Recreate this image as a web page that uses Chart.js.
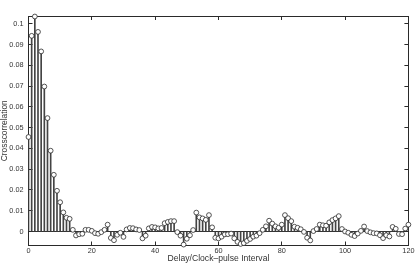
<!DOCTYPE html>
<html>
<head>
<meta charset="utf-8">
<script src="https://cdn.jsdelivr.net/npm/chart.js@4/dist/chart.umd.min.js"></script>
<style>
html, body { margin: 0; padding: 0; background: #fff; }
canvas { display: block; }
</style>
</head>
<body>
<canvas id="xcorrChart" width="420" height="269"></canvas>
<script>
// crosscorrelation, one value per delay 0..120
const xcorr = [
    0.0455, 0.0942, 0.1035, 0.0961, 0.0867, 0.0698, 0.0546, 0.0389, 0.0273, 0.0196,
    0.0141, 0.0092, 0.0066, 0.0061, 0.0008, -0.0019, -0.0013, -0.0011, 0.0008, 0.0008,
    0.0003, -0.0008, -0.0011, -0.0003, 0.0008, 0.0033, -0.0031, -0.0042, -0.0016, -0.0006,
    -0.0026, 0.0010, 0.0017, 0.0016, 0.0010, 0.0007, -0.0033, -0.0020, 0.0015, 0.0022,
    0.0020, 0.0015, 0.0017, 0.0040, 0.0046, 0.0050, 0.0050, -0.0003, -0.0020, -0.0063,
    -0.0035, -0.0018, 0.0007, 0.0091, 0.0068, 0.0063, 0.0056, 0.0079, 0.0020, -0.0030,
    -0.0033, -0.0025, -0.0014, -0.0013, -0.0010, -0.0033, -0.0050, -0.0060, -0.0056, -0.0045,
    -0.0036, -0.0025, -0.0020, -0.0008, 0.0008, 0.0025, 0.0052, 0.0038, 0.0025, 0.0018,
    0.0033, 0.0079, 0.0064, 0.0050, 0.0023, 0.0018, 0.0011, -0.0002, -0.0030, -0.0043,
    0.0002, 0.0012, 0.0033, 0.0030, 0.0028, 0.0044, 0.0055, 0.0063, 0.0074, 0.0012,
    0.0000, -0.0006, -0.0016, -0.0022, -0.0010, 0.0003, 0.0024, 0.0002, -0.0004, -0.0008,
    -0.0009, -0.0018, -0.0032, -0.0018, -0.0024, 0.0022, 0.0013, -0.0012, -0.0013, 0.0014,
    0.0033
];
const delays = xcorr.map((_, i) => i);

const xTicks = [0, 20, 40, 60, 80, 100, 120];
const yTicks = [0, 0.01, 0.02, 0.03, 0.04, 0.05, 0.06, 0.07, 0.08, 0.09, 0.1];
const xRange = [0, 120];
const yRange = [-0.00674, 0.10375];

const xTitle = 'Delay/Clock\u2013pulse Interval';
const yTitle = 'Crosscorrelation';

const points = delays.map((d, i) => ({ x: d, y: xcorr[i] }));

Chart.defaults.font.family = '"Liberation Sans", Arial, Helvetica, sans-serif';
Chart.defaults.color = '#333';

const ink = '#2a2a2a';
const tickFont = { size: 7.3 };

const ctx = document.getElementById('xcorrChart').getContext('2d');
const xcorrChart = new Chart(ctx, {
    type: 'bar',
    data: {
        datasets: [{
            type: 'line',
            label: 'markers',
            data: points,
            showLine: false,
            pointRadius: 2.4,
            pointBorderWidth: 0.8,
            pointBorderColor: ink,
            pointBackgroundColor: '#fff',
            clip: false,
            order: 0
        }, {
            type: 'bar',
            label: 'stems',
            data: points,
            barThickness: 1,
            backgroundColor: '#444',
            borderWidth: 0,
            order: 1
        }]
    },
    options: {
        responsive: false,
        animation: false,
        layout: { padding: { top: 16, right: 4, bottom: 4.5, left: 0 } },
        plugins: {
            legend: { display: false },
            tooltip: { enabled: false }
        },
        scales: {
            x: {
                type: 'linear',
                position: 'bottom',
                offset: false,
                min: xRange[0],
                max: xRange[1],
                afterBuildTicks: s => { s.ticks = xTicks.map(v => ({ value: v })); },
                afterFit: s => { s.height = 19; },
                ticks: { font: tickFont, padding: 5.5, maxRotation: 0 },
                grid: { offset: false, drawOnChartArea: false, tickLength: -4, tickColor: ink },
                border: { display: true, color: ink, width: 1 },
                title: {
                    display: true,
                    text: xTitle,
                    font: { size: 8.6 },
                    lineHeight: 1,
                    padding: { top: 0, bottom: 0.5 }
                }
            },
            x2: {
                type: 'linear',
                position: 'top',
                offset: false,
                min: xRange[0],
                max: xRange[1],
                afterBuildTicks: s => { s.ticks = xTicks.map(v => ({ value: v })); },
                afterFit: s => { s.height = 0; },
                ticks: { display: false },
                grid: { offset: false, drawOnChartArea: false, tickLength: -4, tickColor: ink },
                border: { display: true, color: ink, width: 1 }
            },
            y: {
                type: 'linear',
                position: 'left',
                min: yRange[0],
                max: yRange[1],
                afterBuildTicks: s => { s.ticks = yTicks.map(v => ({ value: v })); },
                afterFit: s => { s.width = 28.5; },
                ticks: {
                    font: tickFont,
                    padding: 9,
                    callback: v => v === 0 ? '0' : v.toFixed(2).replace(/0$/, '')
                },
                grid: {
                    drawOnChartArea: true,
                    tickLength: -4,
                    tickColor: ink,
                    color: c => (c.tick && c.tick.value === 0) ? '#333' : 'rgba(0,0,0,0)'
                },
                border: { display: true, color: ink, width: 1 },
                title: {
                    display: true,
                    text: yTitle,
                    font: { size: 8.4 },
                    lineHeight: 1,
                    padding: { top: 0, bottom: 0 }
                }
            },
            y2: {
                type: 'linear',
                position: 'right',
                min: yRange[0],
                max: yRange[1],
                afterBuildTicks: s => { s.ticks = yTicks.map(v => ({ value: v })); },
                afterFit: s => { s.width = 0; },
                ticks: { display: false },
                grid: { drawOnChartArea: false, tickLength: -4, tickColor: ink },
                border: { display: true, color: ink, width: 1 }
            }
        }
    }
});
</script>
</body>
</html>
